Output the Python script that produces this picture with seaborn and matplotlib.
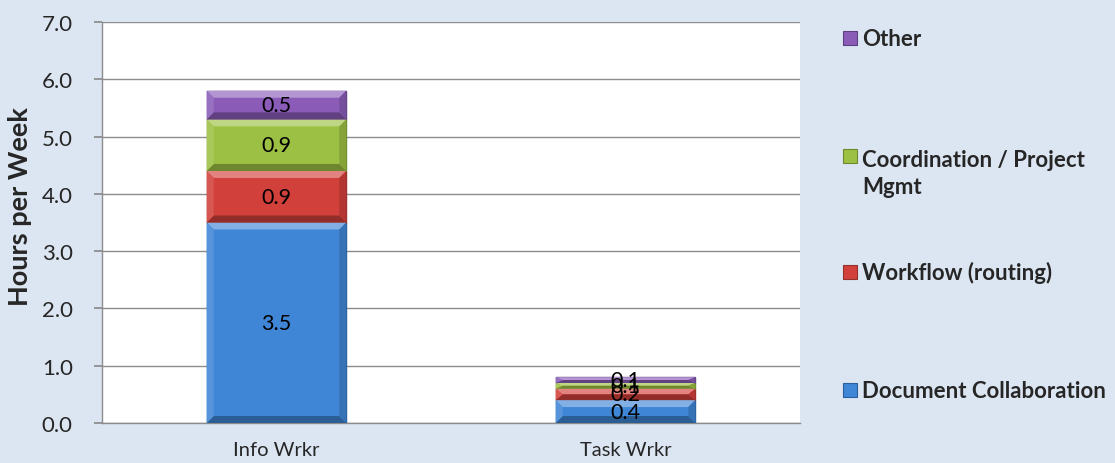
import matplotlib
matplotlib.use("Agg")
import matplotlib.pyplot as plt
import matplotlib.colors as mcolors
import seaborn as sns
import pandas as pd
import numpy as np
from matplotlib.patches import Polygon

# ---- data ----
categories = ["Info Wrkr", "Task Wrkr"]
series_names = ["Document Collaboration", "Workflow (routing)",
                "Coordination / Project\nMgmt", "Other"]
doc_collab = [3.5, 0.4]
workflow = [0.9, 0.2]
coordination = [0.9, 0.1]
other = [0.5, 0.1]
y_ticks = [0.0, 1.0, 2.0, 3.0, 4.0, 5.0, 6.0, 7.0]
y_label = "Hours per Week"

colors = ["#3f86d6", "#d2403c", "#9cc043", "#8a5cb8"]
edges = ["#2a5f9e", "#94302c", "#6e8a2e", "#5e3f82"]

sns.set_theme(style="white")
plt.rcParams["font.family"] = ["Lato", "DejaVu Sans"]

W, H = 1115, 464
fig = plt.figure(figsize=(W / 100, H / 100), dpi=100, facecolor="#dce6f2")
ax = fig.add_axes([102 / W, 40 / H, 698 / W, 401 / H])
ax.set_facecolor("white")
ax.set_xlim(-0.5, 1.5)
ax.set_ylim(0, 7)


def mix(c, other_c, t):
    a = np.array(mcolors.to_rgb(c))
    b = np.array(mcolors.to_rgb(other_c))
    return tuple(a * (1 - t) + b * t)


def add_bevel(patch, col, px=7):
    # bevel size in data units derived from the axes transform
    inv = ax.transData.inverted()
    p0 = inv.transform((0, 0))
    p1 = inv.transform((px, px))
    bx, by = p1 - p0
    x0, y0 = patch.get_x(), patch.get_y()
    x1, y1 = x0 + patch.get_width(), y0 + patch.get_height()
    by = min(by, (y1 - y0) / 2)
    sides = [
        ([(x0, y1), (x1, y1), (x1 - bx, y1 - by), (x0 + bx, y1 - by)], mix(col, "white", 0.35)),
        ([(x0, y0), (x1, y0), (x1 - bx, y0 + by), (x0 + bx, y0 + by)], mix(col, "black", 0.30)),
        ([(x0, y0), (x0, y1), (x0 + bx, y1 - by), (x0 + bx, y0 + by)], mix(col, "white", 0.12)),
        ([(x1, y0), (x1, y1), (x1 - bx, y1 - by), (x1 - bx, y0 + by)], mix(col, "black", 0.15)),
    ]
    for pts, c in sides:
        ax.add_patch(Polygon(pts, closed=True, facecolor=c, edgecolor="none", zorder=4))


bottom = np.zeros(len(categories))
for name, vals, col, ec in zip(series_names, [doc_collab, workflow, coordination, other], colors, edges):
    df = pd.DataFrame({"cat": categories, "val": vals})
    sns.barplot(data=df, x="cat", y="val", color=col, width=0.4, saturation=1,
                bottom=bottom.copy(), errorbar=None, ax=ax,
                edgecolor=ec, linewidth=1.0, zorder=3)
    cont = ax.containers[-1]
    for p in cont:
        add_bevel(p, col)
    ax.bar_label(cont, labels=[f"{v:.1f}" for v in vals],
                 label_type="center", fontsize=15.5, color="black", zorder=6)
    bottom += np.array(vals)

ax.set_xlim(-0.5, 1.5)
ax.set_ylim(0, 7)
ax.set_yticks(y_ticks)
ax.set_yticklabels([f"{t:.1f}" for t in y_ticks], fontsize=16)
ax.set_xticks(range(len(categories)))
ax.set_xticklabels(categories, fontsize=14.5)
ax.set_xticks([-0.5, 0.5, 1.5], minor=True)
ax.tick_params(axis="x", which="major", length=0, pad=13)
ax.tick_params(axis="x", which="minor", length=6, color="#8c8c8c", direction="out")
ax.tick_params(axis="y", length=6, color="#8c8c8c", direction="out", left=True, pad=15)
ax.set_xlabel("")
ax.set_ylabel(y_label, fontsize=19.5, fontweight="bold")
ax.yaxis.set_label_coords(-0.100, 0.541)

ax.yaxis.grid(True, color="#8c8c8c", linewidth=1.0)
ax.set_axisbelow(True)
for s in ["top", "right"]:
    ax.spines[s].set_visible(False)
for s in ["left", "bottom"]:
    ax.spines[s].set_color("#8c8c8c")
    ax.spines[s].set_linewidth(1.0)

# ---- legend (manual, top to bottom) ----
leg_first_line_y = [391, 273, 157, 39]   # pixel centres of first line, per series
line_step = 30
for name, col, ec, yc in zip(series_names, colors, edges, leg_first_line_y):
    n_lines = name.count("\n") + 1
    fig.add_artist(plt.Rectangle((843 / W, 1 - (yc + 7) / H), 14 / W, 14 / H,
                                 transform=fig.transFigure, facecolor=col, edgecolor=ec, linewidth=0.8))
    base = yc + 7.5 + (n_lines - 1) * line_step
    fig.text(862 / W, 1 - base / H, name, fontsize=16, fontweight="bold",
             va="baseline", ha="left", linespacing=1.37)

fig.savefig("out.png", dpi=100, facecolor=fig.get_facecolor())
